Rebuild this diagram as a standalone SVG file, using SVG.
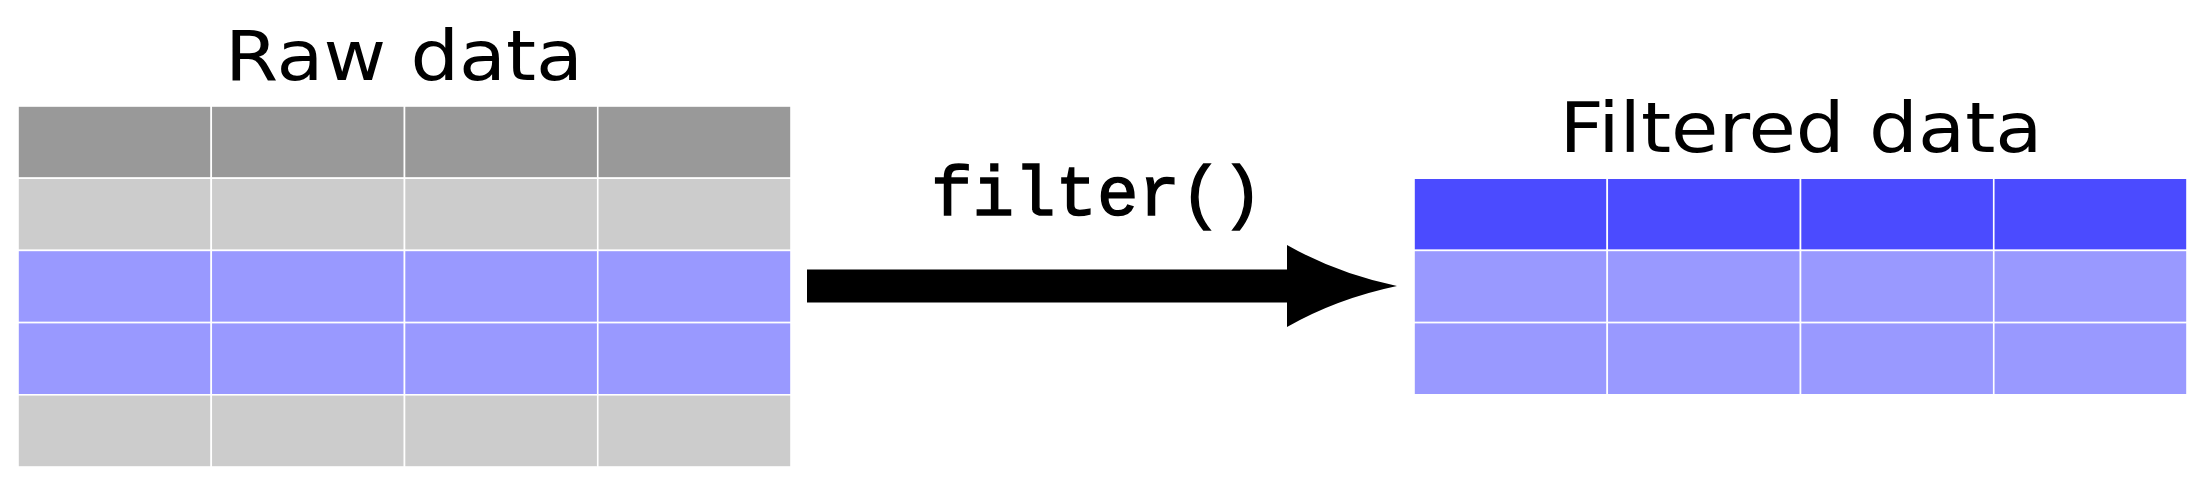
<svg xmlns="http://www.w3.org/2000/svg" width="2205" height="484" viewBox="0 0 2205 484">
<style>
.c{stroke:#ffffff;stroke-width:1.6}
.hd{fill:#999999}
.gr{fill:#cccccc}
.pu{fill:#9999ff}
.bl{fill:#4b4bff}
.title{font-family:"DejaVu Sans","Liberation Sans",sans-serif;font-size:70px;fill:#000000;text-anchor:middle}
.code{font-family:"Liberation Mono","DejaVu Sans Mono",monospace;font-size:70px;fill:#000000;stroke:#000000;stroke-width:1.5;text-anchor:middle}
</style>
<rect x="0" y="0" width="2205" height="484" fill="#ffffff"/>
<g id="raw-data">
<text class="title" x="404" y="80" textLength="358" lengthAdjust="spacingAndGlyphs">Raw data</text>
<g id="raw-table">
<rect class="c hd" x="18" y="106" width="193.25" height="72.2"/>
<rect class="c hd" x="211.25" y="106" width="193.25" height="72.2"/>
<rect class="c hd" x="404.5" y="106" width="193.25" height="72.2"/>
<rect class="c hd" x="597.75" y="106" width="193.25" height="72.2"/>
<rect class="c gr" x="18" y="178.2" width="193.25" height="72.2"/>
<rect class="c gr" x="211.25" y="178.2" width="193.25" height="72.2"/>
<rect class="c gr" x="404.5" y="178.2" width="193.25" height="72.2"/>
<rect class="c gr" x="597.75" y="178.2" width="193.25" height="72.2"/>
<rect class="c pu" x="18" y="250.4" width="193.25" height="72.2"/>
<rect class="c pu" x="211.25" y="250.4" width="193.25" height="72.2"/>
<rect class="c pu" x="404.5" y="250.4" width="193.25" height="72.2"/>
<rect class="c pu" x="597.75" y="250.4" width="193.25" height="72.2"/>
<rect class="c pu" x="18" y="322.6" width="193.25" height="72.2"/>
<rect class="c pu" x="211.25" y="322.6" width="193.25" height="72.2"/>
<rect class="c pu" x="404.5" y="322.6" width="193.25" height="72.2"/>
<rect class="c pu" x="597.75" y="322.6" width="193.25" height="72.2"/>
<rect class="c gr" x="18" y="394.8" width="193.25" height="72.2"/>
<rect class="c gr" x="211.25" y="394.8" width="193.25" height="72.2"/>
<rect class="c gr" x="404.5" y="394.8" width="193.25" height="72.2"/>
<rect class="c gr" x="597.75" y="394.8" width="193.25" height="72.2"/>
</g>
</g>
<g id="filtered-data">
<text class="title" x="1801" y="152" textLength="483" lengthAdjust="spacingAndGlyphs">Filtered data</text>
<g id="filtered-table">
<rect class="c bl" x="1414" y="178.2" width="193.25" height="72.2"/>
<rect class="c bl" x="1607.25" y="178.2" width="193.25" height="72.2"/>
<rect class="c bl" x="1800.5" y="178.2" width="193.25" height="72.2"/>
<rect class="c bl" x="1993.75" y="178.2" width="193.25" height="72.2"/>
<rect class="c pu" x="1414" y="250.4" width="193.25" height="72.2"/>
<rect class="c pu" x="1607.25" y="250.4" width="193.25" height="72.2"/>
<rect class="c pu" x="1800.5" y="250.4" width="193.25" height="72.2"/>
<rect class="c pu" x="1993.75" y="250.4" width="193.25" height="72.2"/>
<rect class="c pu" x="1414" y="322.6" width="193.25" height="72.2"/>
<rect class="c pu" x="1607.25" y="322.6" width="193.25" height="72.2"/>
<rect class="c pu" x="1800.5" y="322.6" width="193.25" height="72.2"/>
<rect class="c pu" x="1993.75" y="322.6" width="193.25" height="72.2"/>
</g>
</g>
<g id="connectors">
<path id="filter-arrow" d="M807,269.5 H1287 V245 Q1336.7,273.3 1397,286 Q1336.7,298.7 1287,327 V302.5 H807 Z" fill="#000000"/>
<text class="code" x="1097" y="215" textLength="332" lengthAdjust="spacingAndGlyphs">filter()</text>
</g>
</svg>
